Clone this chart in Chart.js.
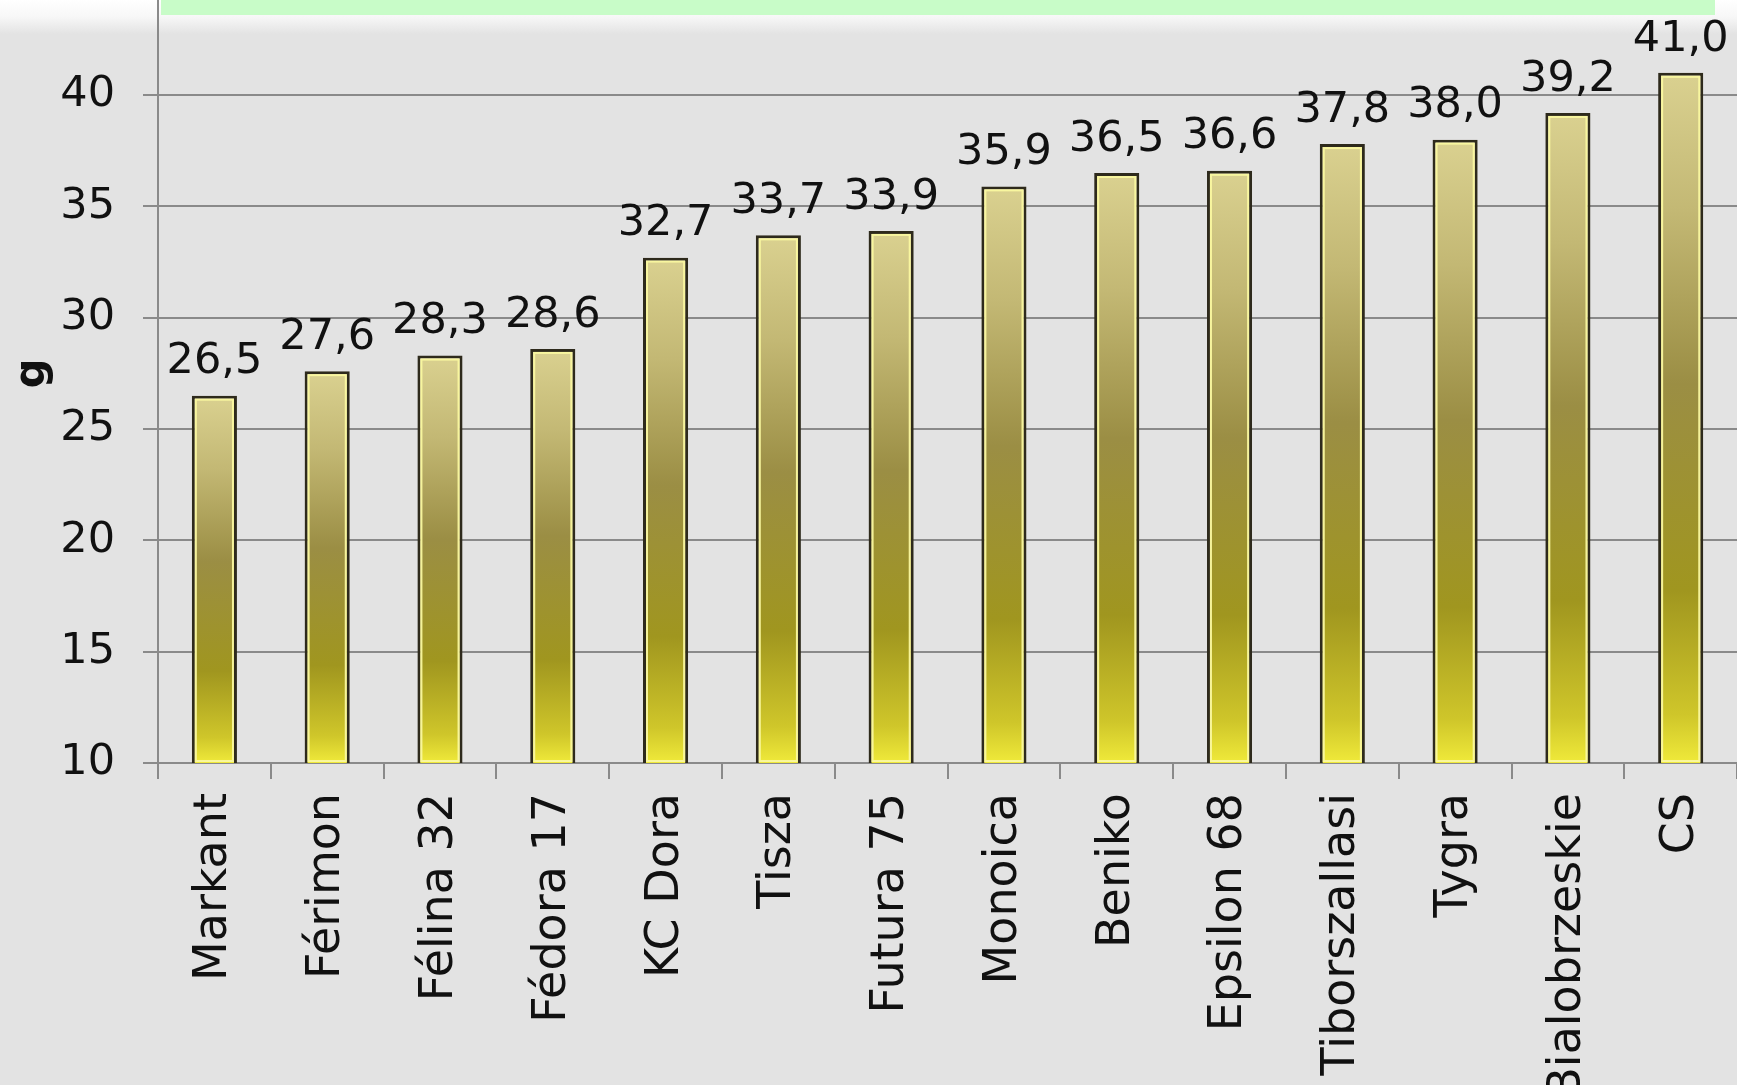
<!DOCTYPE html>
<html>
<head>
<meta charset="utf-8">
<script src="https://cdn.jsdelivr.net/npm/chart.js@4.4.0/dist/chart.umd.min.js"></script>
<style>
    html, body { margin: 0; padding: 0; width: 1737px; height: 1085px; overflow: hidden; background: #e3e3e3; }
    #band { position: absolute; left: 0; top: 0; width: 1737px; height: 34px; background: linear-gradient(#ffffff 0%, #f7f7f7 50%, #e3e3e3 100%); }
    #green { position: absolute; left: 161px; top: 0; width: 1554px; height: 15px; background: #c8fcc8; }
    #wrap { position: absolute; left: 0; top: -70px; width: 1750px; height: 1155px; }
</style>
</head>
<body>
<div id="band"></div>
<div id="green"></div>
<div id="wrap"><canvas id="seedChart"></canvas></div>
<script>
const varieties = ['Markant', 'Férimon', 'Félina 32', 'Fédora 17', 'KC Dora', 'Tisza', 'Futura 75',
    'Monoica', 'Beniko', 'Epsilon 68', 'Tiborszallasi', 'Tygra', 'Bialobrzeskie', 'CS'];
const weights = [26.5, 27.6, 28.3, 28.6, 32.7, 33.7, 33.9, 35.9, 36.5, 36.6, 37.8, 38.0, 39.2, 41.0];
const yMin = 10;
const yMax = 45;
const yStep = 5;
const yTitle = 'g';

const fontFamily = '"DejaVu Sans", sans-serif';

// vertical gradient for each bar, from its top down to the axis
const barFill = (ctx) => {
    const chart = ctx.chart;
    if (!chart.chartArea || ctx.type !== 'data') return '#a89c3c';
    const y = chart.scales.y;
    const top = y.getPixelForValue(ctx.raw);
    const bottom = y.getPixelForValue(yMin);
    if (!isFinite(top) || !isFinite(bottom) || bottom - top < 1) return '#a89c3c';
    const g = chart.ctx.createLinearGradient(0, top, 0, bottom);
    g.addColorStop(0, '#dad190');
    g.addColorStop(0.2, '#c3b874');
    g.addColorStop(0.45, '#9b8e44');
    g.addColorStop(0.75, '#a0961f');
    g.addColorStop(0.93, '#cfc62a');
    g.addColorStop(1, '#f0ea3a');
    return g;
}

const barDecor = {
    id: 'barDecor',
    afterDatasetsDraw(chart) {
        const ctx = chart.ctx;
        const meta = chart.getDatasetMeta(0);
        const bottom = chart.chartArea.bottom;
        ctx.save();
        meta.data.forEach((bar, i) => {
            const half = bar.width / 2;
            // inner highlight
            ctx.strokeStyle = 'rgba(250,248,160,0.95)';
            ctx.lineWidth = 2;
            ctx.strokeRect(bar.x - half + 4, bar.y + 4, bar.width - 8, bottom - bar.y - 6);
            // value label
            ctx.fillStyle = '#111';
            ctx.font = '43px ' + fontFamily;
            ctx.textAlign = 'center';
            ctx.textBaseline = 'bottom';
            ctx.fillText(weights[i].toFixed(1).replace('.', ','), bar.x, bar.y - 12);
        });
        ctx.restore();
    }
};

const seedData = {
    labels: varieties,
    datasets: [{
        data: weights,
        backgroundColor: barFill,
        borderColor: '#2e2a1c',
        borderWidth: 3,
        borderSkipped: false,
        barPercentage: 0.4,
        categoryPercentage: 1
    }]
};

const seedConfig = {
    type: 'bar',
    data: seedData,
    options: {
        responsive: true,
        maintainAspectRatio: false,
        animation: false,
        layout: {
            padding: { top: 31, right: 3, left: 0, bottom: 0 }
        },
        plugins: {
            legend: { display: false },
            tooltip: { enabled: false }
        },
        scales: {
            x: {
                afterFit: (axis) => { axis.height = 322 },
                border: { color: '#8a8a8a', width: 2 },
                grid: {
                    offset: true,
                    drawOnChartArea: false,
                    color: '#8a8a8a',
                    lineWidth: 2,
                    tickLength: 16
                },
                ticks: {
                    autoSkip: false,
                    minRotation: 90,
                    maxRotation: 90,
                    padding: 14,
                    color: '#111',
                    font: { family: fontFamily, size: 46 }
                }
            },
            y: {
                min: yMin,
                max: yMax,
                afterFit: (axis) => { axis.width = 158 },
                border: { color: '#8a8a8a', width: 2 },
                grid: {
                    color: '#8a8a8a',
                    lineWidth: 2,
                    tickLength: 15
                },
                ticks: {
                    stepSize: yStep,
                    padding: 28,
                    color: '#111',
                    font: { family: fontFamily, size: 43 },
                    // the top tick sits above the visible picture
                    callback: (value) => value === yMax ? '' : value
                },
                title: {
                    display: true,
                    text: yTitle,
                    color: '#111',
                    padding: { top: 8, bottom: 0 },
                    font: { family: fontFamily, size: 42, weight: 'bold' }
                }
            }
        }
    },
    plugins: [barDecor]
};

const seedChart = new Chart(document.getElementById('seedChart'), seedConfig);
</script>
</body>
</html>
